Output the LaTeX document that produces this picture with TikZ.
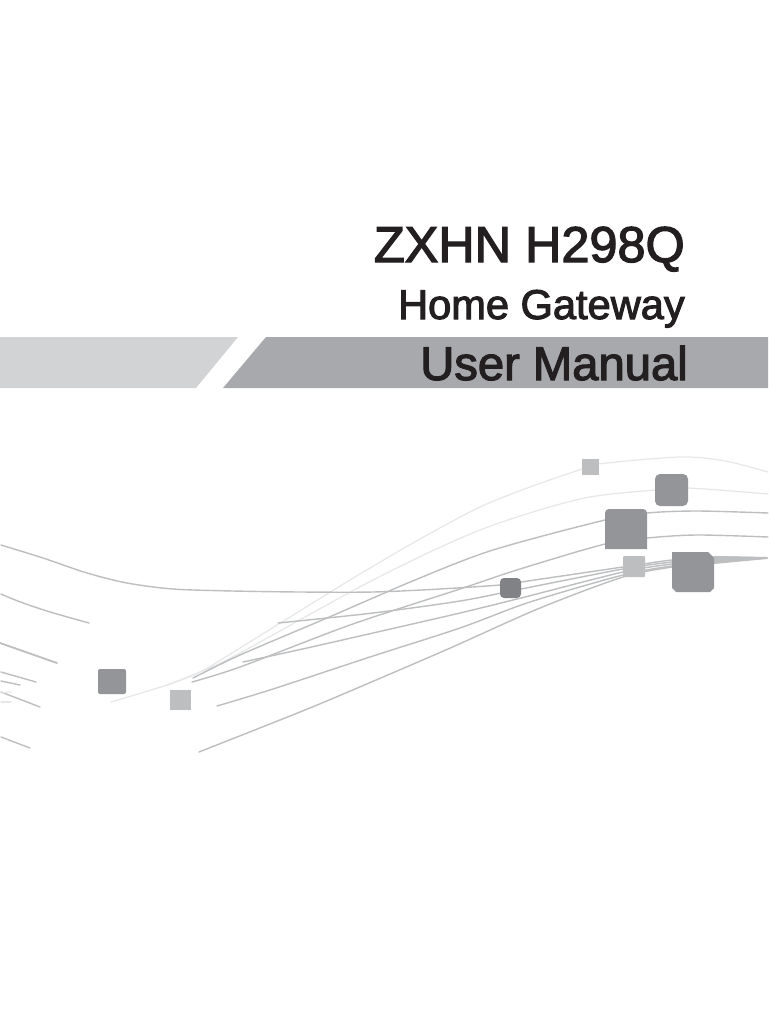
\documentclass[tikz,border=0pt]{standalone}
\usepackage{fontspec}
\setmainfont{Liberation Sans}
\newfontfamily\titlefont[FakeBold=2.5]{Liberation Sans}
\definecolor{bandlight}{HTML}{D1D3D4}
\definecolor{banddark}{HTML}{A7A9AC}
\definecolor{sqdark}{HTML}{939598}
\definecolor{sqdarker}{HTML}{808285}
\definecolor{sqlight}{HTML}{BCBEC0}
\definecolor{linemid}{HTML}{BCBEC0}
\definecolor{linefaint}{HTML}{E6E7E8}
\definecolor{inkdark}{HTML}{231F20}
\tikzset{
  wave/.style={draw=linemid,line width=1.4pt,line cap=round},
  wavefaint/.style={draw=linefaint,line width=1.2pt,line cap=round},
  titletext/.style={anchor=base east,inner sep=0pt,text=inkdark},
  sqd/.style={fill=sqdark,draw=none},
  sql/.style={fill=sqlight,draw=none},
}
\begin{document}
\begin{tikzpicture}[x=1pt,y=-1pt]
\useasboundingbox (0,0) rectangle (768,1024);
\fill[white] (0,0) rectangle (768,1024);
% bands
\fill[bandlight] (0,337) -- (238,337) -- (196,388) -- (0,388) -- cycle;
\fill[banddark] (266,337) -- (768,337) -- (768,388) -- (223,388) -- cycle;
% titles
\node[titletext] (title) at (685,262) {\titlefont\fontsize{50.4}{50}\selectfont ZXHN H298Q};
\node[titletext] (sub) at (685,319) {\titlefont\fontsize{41.6}{42}\selectfont Home Gateway};
\node[titletext] (manual) at (688,380) {\titlefont\fontsize{47.2}{47}\selectfont User Manual};
% faint curves
\draw[wavefaint] plot[smooth] coordinates {(111,702) (167,685) (200,672) (240,648) (350,580) (420,539) (480,507) (530,487) (582,469) (598,464) (680,457) (725,461) (768,472)};
\draw[wavefaint] plot[smooth] coordinates {(167,685) (200,672) (240,653) (373,580) (480,530) (580,499) (655,490) (688,488) (768,494)};
% medium curves
\draw[wave] plot[smooth] coordinates {(193,678) (240,655) (327,618) (415,580) (493,550) (605,520) (647,513) (697,511) (768,513)};
\draw[wave] plot[smooth] coordinates {(192,682) (240,667) (350,625) (460,589) (520,569) (605,544) (647,538) (697,535) (768,537)};
% fan of lines
\draw[wave] plot[smooth] coordinates {(1,545) (43,558) (87,573) (127,583) (173,589) (233,591) (300,592) (373,592) (440,589) (500,585) (521,582) (623,567) (672,560) (714,557) (767,558)};
\draw[wave] plot[smooth] coordinates {(278,623) (373,613) (460,601) (521,589) (623,569) (672,562) (714,558) (767,558)};
\draw[wave] plot[smooth] coordinates {(243,662) (307,648) (373,633) (460,613) (521,598) (623,572) (672,564) (714,559) (767,558)};
\draw[wave] plot[smooth] coordinates {(217,706) (273,689) (373,656) (460,628) (530,602) (623,575) (672,566) (714,561) (767,558)};
\draw[wave] plot[smooth] coordinates {(199,752) (300,712) (355,689) (448,649) (540,608) (623,577) (672,567) (714,562) (767,558)};
\fill[sqlight] (714,556) -- (767,557) -- (767,559) -- (714,564) -- cycle;
% left fragments
\draw[wave] (1,594) .. controls (30,607) and (60,615) .. (89,623);
\draw[wave,line width=1.8pt] (0,643) -- (57,663);
\draw[wave] (1,672) -- (36,682);
\draw[wave] (1,681) -- (20,685);
\draw[wave] (1,692) -- (40,707);
\draw[wavefaint] (1,693) -- (12,692);
\draw[wavefaint] (1,702) -- (11,702);
\draw[wave] (1,737) -- (30,748);
% squares
\fill[sqd,rounded corners=2pt] (98,669) rectangle (126,694);
\fill[sql] (170,690) rectangle (191,710);
\fill[fill=sqdarker,rounded corners=4pt] (500,578) rectangle (521,598);
\fill[sql,rounded corners=1pt] (623,556) rectangle (645,577);
\fill[sql] (582,459) rectangle (599,475);
\fill[sqd,rounded corners=5pt] (655,474) rectangle (688,506);
\fill[sqd,rounded corners=4pt] (605,549) -- (605,509) -- (647,509) -- (647,530) [sharp corners] -- (647,549) -- cycle;
\fill[sqd] (672,552) -- (708,552) -- (714,558) -- (714,588) -- (710,592) -- (676,592) -- (672,588) -- cycle;
\end{tikzpicture}
\end{document}
